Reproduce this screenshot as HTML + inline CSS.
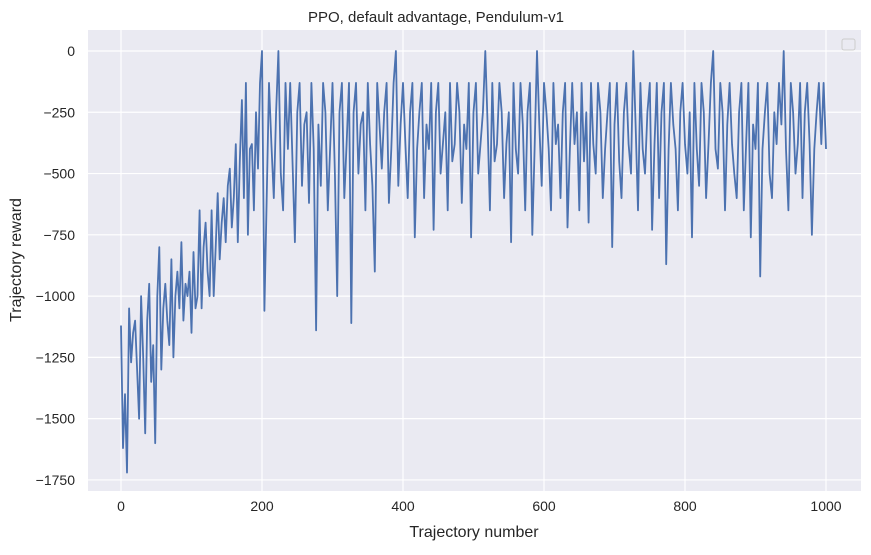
<!DOCTYPE html>
<html><head><meta charset="utf-8"><style>
body{margin:0;background:#fff;font-family:"Liberation Sans","DejaVu Sans",sans-serif;}
svg text{font-family:"Liberation Sans","DejaVu Sans",sans-serif;fill:#262626;}
</style></head><body>
<svg id="chart" width="871" height="550" xmlns="http://www.w3.org/2000/svg">
<rect x="88" y="30" width="773" height="461" fill="#eaeaf2"/>
<g id="grid"></g>
<g id="ticks"></g>
<path id="line" fill="none" stroke="#4c72b0" stroke-width="1.8" stroke-linejoin="round"/>
<rect x="842" y="39" width="13" height="11" rx="2" fill="#eaeaf2" stroke="#cccccc"/>
<text x="436" y="22" font-size="15" text-anchor="middle">PPO, default advantage, Pendulum-v1</text>
<text x="474" y="537" font-size="16" text-anchor="middle">Trajectory number</text>
<text x="21" y="260" font-size="16" text-anchor="middle" transform="rotate(-90 21 260)">Trajectory reward</text>
</svg>
<script>
const xTicks=[0,200,400,600,800,1000];
const yTicks=[0,-250,-500,-750,-1000,-1250,-1500,-1750];
const yTickLabels=["0","\u2212250","\u2212500","\u2212750","\u22121000","\u22121250","\u22121500","\u22121750"];
// early phase: trajectories 0..200, sampled every 2.5
const earlyRewards=[-1120,-1620,-1400,-1720,-1050,-1270,-1150,-1100,-1300,-1500,-1000,-1250,-1560,-1100,-950,-1350,-1200,-1600,-1000,-800,-1300,-1050,-950,-1100,-1200,-850,-1250,-1000,-900,-1050,-780,-1100,-950,-1000,-900,-1150,-820,-1050,-1000,-650,-1050,-800,-700,-900,-1000,-650,-1000,-800,-580,-850,-700,-600,-780,-550,-480,-720,-600,-380,-780,-450,-200,-600,-130,-750,-400,-380,-650,-250,-480,-130,0];
// later phase: trajectories 200..1000
const lateRewards=[-1060,-600,-130,-380,-600,-250,0,-500,-650,-130,-400,-130,-450,-780,-250,-130,-550,-300,-250,-620,-130,-400,-1140,-300,-550,-130,-250,-650,-400,-130,-500,-1000,-250,-130,-600,-380,-130,-1110,-250,-130,-500,-300,-250,-650,-130,-380,-550,-900,-130,-300,-480,-250,-130,-620,-400,-130,0,-550,-300,-130,-380,-600,-250,-130,-760,-400,-250,-130,-600,-300,-400,-130,-730,-250,-130,-500,-380,-250,-650,-130,-450,-380,-130,-250,-620,-300,-400,-130,-760,-250,-130,-500,-380,-250,0,-300,-650,-130,-450,-380,-130,-250,-600,-380,-250,-780,-130,-400,-500,-130,-300,-650,-250,-130,-750,-400,0,-300,-550,-130,-250,-400,-650,-130,-380,-300,-600,-250,-130,-720,-400,-130,-380,-250,-650,-130,-450,-250,-700,-130,-380,-500,-130,-250,-600,-400,-250,-130,-800,-300,-130,-450,-600,-250,-130,-380,-500,0,-300,-650,-130,-400,-500,-250,-130,-730,-380,-130,-600,-250,-130,-870,-400,-130,-300,-400,-650,-250,-130,-380,-500,-250,-760,-130,-400,-550,-130,-250,-600,-380,-130,0,-400,-480,-130,-250,-650,-300,-130,-380,-500,-600,-250,-130,-650,-380,-130,-760,-300,-400,-130,-920,-400,-250,-130,-500,-600,-250,-380,-130,-300,0,-400,-650,-130,-250,-500,-380,-130,-600,-250,-130,-380,-750,-400,-250,-130,-380,-130,-400];
const NS="http://www.w3.org/2000/svg";
const X=v=>121+v*0.705;
const Y=v=>51-v*0.2451;
const grid=document.getElementById('grid'),ticks=document.getElementById('ticks');
xTicks.forEach(t=>{
 const l=document.createElementNS(NS,'line');
 l.setAttribute('x1',X(t));l.setAttribute('x2',X(t));l.setAttribute('y1',30);l.setAttribute('y2',491);
 l.setAttribute('stroke','#fff');l.setAttribute('stroke-width','1.2');
 
 
 grid.appendChild(l);
 const tx=document.createElementNS(NS,'text');
 tx.setAttribute('x',X(t));tx.setAttribute('y',511);tx.setAttribute('font-size','14');tx.setAttribute('text-anchor','middle');
 tx.textContent=t;
 
 
 ticks.appendChild(tx);
});
yTicks.forEach((t,i)=>{
 const l=document.createElementNS(NS,'line');
 l.setAttribute('x1',88);l.setAttribute('x2',861);l.setAttribute('y1',Y(t));l.setAttribute('y2',Y(t));
 l.setAttribute('stroke','#fff');l.setAttribute('stroke-width','1.2');
 
 
 grid.appendChild(l);
 const tx=document.createElementNS(NS,'text');
 tx.setAttribute('x',75);tx.setAttribute('y',Y(t)+5);tx.setAttribute('font-size','14');tx.setAttribute('text-anchor','end');
 tx.textContent=yTickLabels[i];
 
 
 ticks.appendChild(tx);
});
const pts=[];
const s1=200/(earlyRewards.length-1);
earlyRewards.forEach((v,i)=>pts.push([i*s1,v]));
const s2=800/lateRewards.length;
lateRewards.forEach((v,i)=>pts.push([200+(i+1)*s2,v]));
document.getElementById('line').setAttribute('d',pts.map((p,i)=>(i?'L':'M')+X(p[0]).toFixed(1)+' '+Y(p[1]).toFixed(1)).join(''));
</script>
</body></html>
